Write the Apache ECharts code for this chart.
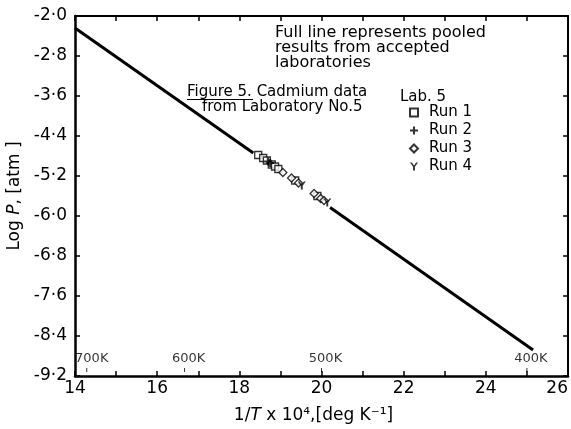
<!DOCTYPE html>
<html>
<head>
<meta charset="utf-8">
<script src="https://cdn.jsdelivr.net/npm/echarts@6/dist/echarts.min.js"></script>
<style>
  html, body { margin: 0; padding: 0; background: #fff; }
  #chart { width: 571px; height: 429px; }
</style>
</head>
<body>
<div id="chart"></div>
<script>
// Pooled line from accepted laboratories (two segments, broken around the Lab. 5 points)
const pooledX = [14.0, 18.34, 20.21, 25.15];
const pooledY = [-2.24, -4.74, -5.83, -8.68];

// Lab. 5 cadmium runs: x = 1/T x 10^4, y = log P [atm]
const run1X = [18.46, 18.58, 18.67, 18.79, 18.87, 18.95, 19.36, 19.90];
const run1Y = [-4.78, -4.84, -4.89, -4.97, -5.01, -5.06, -5.29, -5.60];
const run2X = [18.70, 18.75];
const run2Y = [-4.91, -4.94];
const run3X = [19.06, 19.27, 19.44, 19.82, 19.98, 20.06];
const run3Y = [-5.13, -5.24, -5.34, -5.55, -5.65, -5.69];
const run4X = [19.52, 20.14];
const run4Y = [-5.39, -5.73];

// Temperature markers along the bottom of the plot
const tempK = [700, 600, 500, 400];

// Axis ranges and tick steps
const xMin = 14, xMax = 26, xStep = 1;
const yMin = -9.2, yMax = -2.0, yStep = 0.8;

const FONT = 'DejaVu Sans';
const plusPath = 'path://M3.7,0H6.3V3.7H10V6.3H6.3V10H3.7V6.3H0V3.7H3.7Z';
const yPath = 'path://M0,0L2.4,0L5,3.6L7.6,0L10,0L6.2,5.2L6.2,10L3.8,10L3.8,5.2Z';

const zip = (xs, ys) => xs.map((x, i) => [x, ys[i]]);

const chart = echarts.init(document.getElementById('chart'), null, { renderer: 'canvas' });

const axisLineStyle = { color: '#000', width: 2.5 };
const tickStyle = { color: '#000', width: 1.5 };
const openMarker = { color: '#fff', borderColor: '#000', borderWidth: 1.3 };

const option = {
  backgroundColor: '#fff',
  animation: false,
  grid: { left: 75, right: 3, top: 16, bottom: 53, containLabel: false, outerBoundsMode: 'none' },
  xAxis: [
    {
      type: 'value', min: xMin, max: xMax, interval: xStep, position: 'bottom',
      axisLine: { lineStyle: axisLineStyle },
      axisTick: { inside: true, length: 5, lineStyle: tickStyle },
      splitLine: { show: false },
      axisLabel: {
        color: '#000', fontSize: 17, fontFamily: FONT, margin: 4,
        alignMaxLabel: 'right',
        formatter: v => (Math.round(v) % 2 === 0 ? String(Math.round(v)) : '')
      },
      name: '{n|1/}{i|T}{n| x 10⁴,[deg K⁻¹]}',
      nameLocation: 'middle', nameGap: 31,
      nameTextStyle: {
        padding: [0, 16, 0, 0],
        rich: {
          n: { fontSize: 17, fontFamily: FONT, color: '#000' },
          i: { fontSize: 17, fontFamily: FONT, fontStyle: 'italic', color: '#000' }
        }
      }
    },
    {
      type: 'value', min: xMin, max: xMax, interval: xStep, position: 'top',
      axisLine: { lineStyle: { color: '#000', width: 2 } },
      axisTick: { inside: true, length: 5, lineStyle: tickStyle },
      axisLabel: { show: false }, splitLine: { show: false }
    }
  ],
  yAxis: [
    {
      type: 'value', min: yMin, max: yMax, interval: yStep, position: 'left',
      axisLine: { lineStyle: axisLineStyle },
      axisTick: { inside: true, length: 5, lineStyle: tickStyle },
      splitLine: { show: false },
      axisLabel: {
        color: '#000', fontSize: 17, fontFamily: FONT, margin: 8,
        formatter: v => v.toFixed(1).replace('.', '·')
      },
      name: '{n|Log }{i|P}{n|, [atm ]}',
      nameLocation: 'middle', nameGap: 50, nameRotate: 90,
      nameTextStyle: {
        rich: {
          n: { fontSize: 17, fontFamily: FONT, color: '#000' },
          i: { fontSize: 17, fontFamily: FONT, fontStyle: 'italic', color: '#000' }
        }
      }
    },
    {
      type: 'value', min: yMin, max: yMax, interval: yStep, position: 'right',
      axisLine: { lineStyle: { color: '#000', width: 2 } },
      axisTick: { inside: true, length: 5, lineStyle: tickStyle },
      axisLabel: { show: false }, splitLine: { show: false }
    }
  ],
  legend: {
    orient: 'vertical', left: 409, top: 104, padding: 0,
    itemWidth: 8, itemHeight: 8, itemGap: 1,
    textStyle: { fontSize: 15, fontFamily: FONT, color: '#000', lineHeight: 17, padding: [0, 0, 0, 6] },
    data: ['Run 1', 'Run 2', 'Run 3', 'Run 4']
  },
  graphic: [
    {
      type: 'text', left: 275, top: 25,
      style: {
        text: 'Full line represents pooled\nresults from accepted\nlaboratories',
        font: '16px "DejaVu Sans"', fill: '#000', lineHeight: 15
      }
    },
    {
      type: 'text', left: 187, top: 85,
      style: {
        text: 'Figure 5. Cadmium data',
        font: '15px "DejaVu Sans"', fill: '#000'
      }
    },
    {
      type: 'text', left: 202, top: 100,
      style: {
        text: 'from Laboratory No.5',
        font: '15px "DejaVu Sans"', fill: '#000'
      }
    },
    {
      type: 'line', shape: { x1: 187, y1: 99.5, x2: 253, y2: 99.5 },
      style: { stroke: '#000', lineWidth: 1 }
    },
    {
      type: 'text', left: 400, top: 90,
      style: { text: 'Lab. 5', font: '15px "DejaVu Sans"', fill: '#000' }
    }
  ],
  series: [
    {
      name: 'Pooled', type: 'line', xAxisIndex: 0, yAxisIndex: 0,
      data: zip(pooledX.slice(0, 2), pooledY.slice(0, 2)),
      showSymbol: false, symbol: 'none',
      lineStyle: { color: '#000', width: 3 }, z: 2
    },
    {
      name: 'Pooled', type: 'line', xAxisIndex: 0, yAxisIndex: 0,
      data: zip(pooledX.slice(2), pooledY.slice(2)),
      showSymbol: false, symbol: 'none',
      lineStyle: { color: '#000', width: 3 }, z: 2
    },
    {
      name: 'Run 1', type: 'scatter', data: zip(run1X, run1Y),
      symbol: 'rect', symbolSize: 7, itemStyle: openMarker, z: 3
    },
    {
      name: 'Run 2', type: 'scatter', data: zip(run2X, run2Y),
      symbol: plusPath, symbolSize: 8, itemStyle: { color: '#000' }, z: 4
    },
    {
      name: 'Run 3', type: 'scatter', data: zip(run3X, run3Y),
      symbol: 'diamond', symbolSize: 8, itemStyle: openMarker, z: 3
    },
    {
      name: 'Run 4', type: 'scatter', data: zip(run4X, run4Y),
      symbol: yPath, symbolSize: 8, itemStyle: { color: '#000' }, z: 4
    },
    {
      name: 'Temperature', type: 'scatter', silent: true,
      data: tempK.map(t => ({
        value: [1e4 / t, -9.08],
        label: { offset: [t === 700 ? 5 : 4, 0] }
      })),
      symbol: 'rect', symbolSize: [1, 4],
      itemStyle: { color: '#000' },
      label: {
        show: true, position: 'top', distance: 3,
        formatter: p => tempK[p.dataIndex] + 'K',
        fontSize: 13, fontFamily: FONT, color: '#000'
      }
    }
  ]
};

chart.setOption(option);
</script>
</body>
</html>
